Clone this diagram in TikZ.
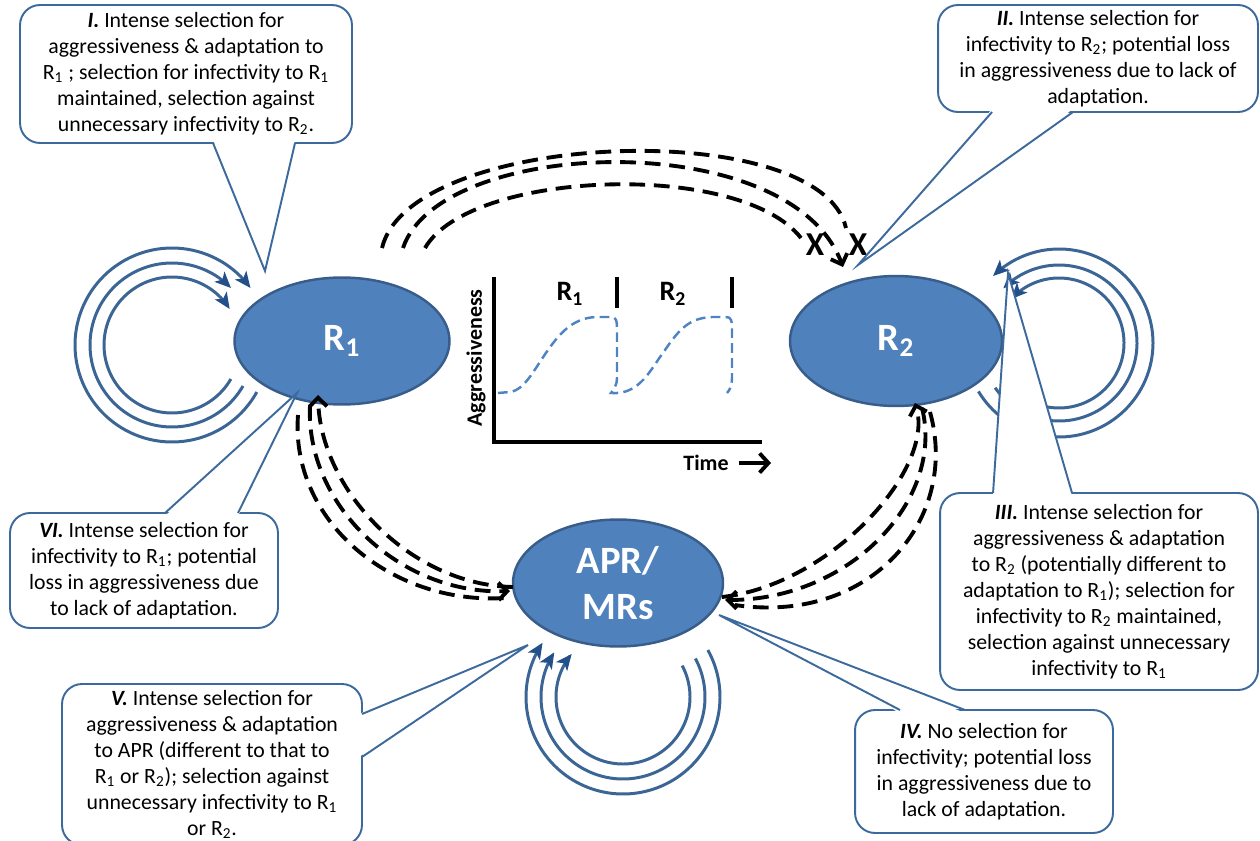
\documentclass[tikz,border=0pt]{standalone}
\usepackage{fontspec}
\setmainfont{Carlito}
\usetikzlibrary{shapes.geometric,arrows.meta,calc}
\definecolor{ellfill}{HTML}{4F81BD}
\definecolor{ellbord}{HTML}{385D8A}
\definecolor{cbord}{HTML}{3D6A9C}
\definecolor{loopc}{HTML}{3A6595}
\definecolor{loophead}{HTML}{23508A}
\definecolor{curvec}{HTML}{4F84C4}
\begin{document}
\begin{tikzpicture}[x=0.02cm, y=-0.02cm,
  ell/.style={ellipse, draw=ellbord, line width=1.4pt, fill=ellfill, text=white,
    font=\fontsize{22}{26}\selectfont\bfseries, inner sep=0pt, align=center},
  callout/.style={draw=cbord, line width=1.1pt, fill=white, rounded corners=0.4cm,
    align=center, font=\fontsize{12.4}{14.8}\selectfont, inner sep=0pt, outer sep=0pt},
  tailline/.style={draw=cbord, line width=1.1pt},
  loopline/.style={draw=loopc, line width=1.7pt,
    -{Stealth[length=0.32cm,width=0.28cm,inset=0.08cm,color=loophead]}},
  dashline/.style={draw=black, line width=2.2pt, dash pattern=on 9pt off 5pt},
  dtip/.style={-{Straight Barb[length=5pt,width=10pt]}},
  axisline/.style={line width=2.2pt},
  glabel/.style={font=\fontsize{12.5}{15}\selectfont\bfseries},
  xmark/.style={font=\fontsize{19}{22}\selectfont\bfseries},
]
\useasboundingbox (0,0) rectangle (1260,841);

% ---------- ellipses ----------
\node[ell, minimum width=4.3cm, minimum height=2.54cm] (R1) at (342,341) {R\textsubscript{1}};
\node[ell, minimum width=4.24cm, minimum height=2.6cm] (R2) at (896,341) {R\textsubscript{2}};
\node[ell, minimum width=4.2cm, minimum height=2.54cm] (APR) at (618,583) {APR/\\MRs};

% ---------- self loops ----------
\draw[loopline] plot[domain=30:328, samples=100] ({172+68*cos(\x)},{345+68*sin(\x)});
\draw[loopline] plot[domain=30:316, samples=100] ({172+82*cos(\x)},{345+82*sin(\x)});
\draw[loopline] plot[domain=29:324, samples=100] ({172+97*cos(\x)},{345+97*sin(\x)});

\draw[loopline] plot[domain=0:1, samples=100] ({1059+65*cos(145-283*\x)},{343+65*sin(145-283*\x)});
\draw[loopline] plot[domain=0:1, samples=100] ({1059+78*cos(145-281*\x)},{343+78*sin(145-281*\x)});
\draw[loopline] plot[domain=0:1, samples=100] ({1059+94*cos(149-284*\x)},{343+94*sin(149-284*\x)});

\draw[loopline] plot[domain=-28:220, samples=100] ({623+67*cos(\x)},{697+67*sin(\x)});
\draw[loopline] plot[domain=-28:213, samples=100] ({623+82*cos(\x)},{697+82*sin(\x)});
\draw[loopline] plot[domain=-29:214, samples=100] ({623+97*cos(\x)},{697+97*sin(\x)});

% ---------- dashed transitions R1 -> R2 ----------
\coordinate (s1) at (382,248); \coordinate (e1) at (846,228);
\coordinate (s2) at (403,248); \coordinate (e2) at (843,267);
\coordinate (s3) at (425,248); \coordinate (e3) at (801,238);
\draw[dashline] (s1) .. controls (410,130) and (820,115) .. (e1);
\draw[dashline, dtip] (s2) .. controls (440,137) and (790,125) .. (e2);
\draw[dashline] (s3) .. controls (470,170) and (740,160) .. (e3);
\node[xmark] (x1) at (815,245) {X};
\node[xmark] (x2) at (858,245) {X};

% ---------- dashed transitions R1 <-> APR ----------
\coordinate (l1a) at (513,587); \coordinate (l1b) at (318,395);
\coordinate (l2a) at (310,405); \coordinate (l2b) at (510,591);
\coordinate (l3a) at (298,415); \coordinate (l3b) at (505,598);
\draw[dashline, dtip] (l1a) .. controls (410,585) and (320,490) .. (l1b);
\draw[dashline, dtip] (l2a) .. controls (305,505) and (400,595) .. (l2b);
\draw[dashline] (l3a) .. controls (290,520) and (390,605) .. (l3b);

% ---------- dashed transitions R2 <-> APR ----------
\coordinate (r1a) at (722,597); \coordinate (r1b) at (915,403);
\coordinate (r2a) at (922,408); \coordinate (r2b) at (725,600);
\coordinate (r3a) at (930,412); \coordinate (r3b) at (735,605);
\draw[dashline, dtip] (r1a) .. controls (830,585) and (935,470) .. (r1b);
\draw[dashline, dtip] (r2a) .. controls (945,500) and (850,600) .. (r2b);
\draw[dashline] (r3a) .. controls (960,520) and (870,625) .. (r3b);

% ---------- central graph ----------
\coordinate (yt) at (494,277); \coordinate (org) at (494,442); \coordinate (xe) at (762,442);
\draw[axisline] (yt) -- (org) -- (xe);
\draw[axisline] (617,277) -- (617,308);
\draw[axisline] (732,277) -- (732,308);
\node[glabel, rotate=90] (ylab) at (476,358) {Aggressiveness};
\node[glabel] (tlab) at (706,463) {Time};
\coordinate (tarr) at (771,463);
\draw[axisline, -{Straight Barb[length=5pt,width=11pt]}] ($(tlab.east)+(4,0)$) -- (tarr);
\node[font=\fontsize{16}{18}\selectfont\bfseries] (gr1) at (570,294) {R\textsubscript{1}};
\node[font=\fontsize{16}{18}\selectfont\bfseries] (gr2) at (673,294) {R\textsubscript{2}};
\draw[draw=curvec, line width=1.4pt, dash pattern=on 5.5pt off 3pt]
  (498,393) -- (510,392) .. controls (525,390) and (535,368) .. (548,350)
  .. controls (562,330) and (575,318) .. (596,317) -- (611,317)
  .. controls (616,317) and (617,320) .. (617,330) -- (617,378)
  .. controls (617,385) and (614,389) .. (611,393)
  .. controls (640,395) and (650,370) .. (665,350)
  .. controls (680,328) and (690,318) .. (712,317) -- (726,317)
  .. controls (731,317) and (732,320) .. (732,330) -- (732,378)
  .. controls (732,385) and (730,390) .. (727,393);

% ---------- callouts ----------
% I
\node[callout, minimum width=6.64cm, minimum height=2.76cm] (b1) at (186,74)
 {\textbf{\textit{I.}} Intense selection for\\aggressiveness \& adaptation to\\R\textsubscript{1} ; selection for infectivity to R\textsubscript{1}\\maintained, selection against\\unnecessary infectivity to R\textsubscript{2}.};
\coordinate (t1) at (265,271);
\coordinate (b1a) at ($(b1.south west)+(193,0)$);
\coordinate (b1b) at ($(b1.south west)+(275,0)$);
\fill[white] ($(b1a)+(0,-3)$) -- (t1) -- ($(b1b)+(0,-3)$) -- cycle;
\draw[tailline] (b1a) -- (t1) -- (b1b);

% II
\node[callout, minimum width=6.4cm, minimum height=2.14cm] (b2) at (1098,58.5)
 {\textbf{\textit{II.}} Intense selection for\\infectivity to R\textsubscript{2}; potential loss\\in aggressiveness due to lack of\\adaptation.};
\coordinate (t2) at (858,265);
\coordinate (b2a) at ($(b2.south west)+(54,0)$);
\coordinate (b2b) at ($(b2.south west)+(135,0)$);
\fill[white] ($(b2a)+(0,-3)$) -- (t2) -- ($(b2b)+(0,-3)$) -- cycle;
\draw[tailline] (b2a) -- (t2) -- (b2b);

% III
\node[callout, minimum width=6.36cm, minimum height=3.94cm] (b3) at (1099,591.5)
 {\textbf{\textit{III.}} Intense selection for\\aggressiveness \& adaptation\\to R\textsubscript{2} (potentially different to\\adaptation to R\textsubscript{1}); selection for\\infectivity to R\textsubscript{2} maintained,\\selection against unnecessary\\infectivity to R\textsubscript{1}};
\coordinate (t3) at (1008,273);
\coordinate (b3a) at ($(b3.north west)+(53,0)$);
\coordinate (b3b) at ($(b3.north west)+(132,0)$);
\fill[white] ($(b3a)+(0,3)$) -- (t3) -- ($(b3b)+(0,3)$) -- cycle;
\draw[tailline] (b3a) -- (t3) -- (b3b);

% IV
\node[callout, minimum width=5.16cm, minimum height=2.46cm] (b4) at (984,771.5)
 {\textbf{\textit{IV.}} No selection for\\infectivity; potential loss\\in aggressiveness due to\\lack of adaptation.};
\coordinate (t4) at (719,615);
\coordinate (b4a) at ($(b4.north west)+(45,0)$);
\coordinate (b4b) at ($(b4.north west)+(110,0)$);
\fill[white] ($(b4a)+(0,3)$) -- (t4) -- ($(b4b)+(0,3)$) -- cycle;
\draw[tailline] (b4a) -- (t4) -- (b4b);

% V
\node[callout, minimum width=6.0cm, minimum height=3.22cm] (b5) at (212,764.5)
 {\textbf{\textit{V.}} Intense selection for\\aggressiveness \& adaptation\\to APR (different to that to\\R\textsubscript{1} or R\textsubscript{2}); selection against\\unnecessary infectivity to R\textsubscript{1}\\or R\textsubscript{2}.};
\coordinate (t5) at (528,645);
\coordinate (b5a) at ($(b5.north east)+(0,30)$);
\coordinate (b5b) at ($(b5.north east)+(0,73)$);
\fill[white] ($(b5a)+(-3,0)$) -- (t5) -- ($(b5b)+(-3,0)$) -- cycle;
\draw[tailline] (b5a) -- (t5) -- (b5b);

% VI
\node[callout, minimum width=5.36cm, minimum height=2.3cm] (b6) at (144,570.5)
 {\textbf{\textit{VI.}} Intense selection for\\infectivity to R\textsubscript{1}; potential\\loss in aggressiveness due\\to lack of adaptation.};
\coordinate (t6) at (297,393);
\coordinate (b6a) at ($(b6.north west)+(155,0)$);
\coordinate (b6b) at ($(b6.north west)+(228,0)$);
\fill[white] ($(b6a)+(0,3)$) -- (t6) -- ($(b6b)+(0,3)$) -- cycle;
\draw[tailline] (b6a) -- (t6) -- (b6b);
\end{tikzpicture}
\end{document}
